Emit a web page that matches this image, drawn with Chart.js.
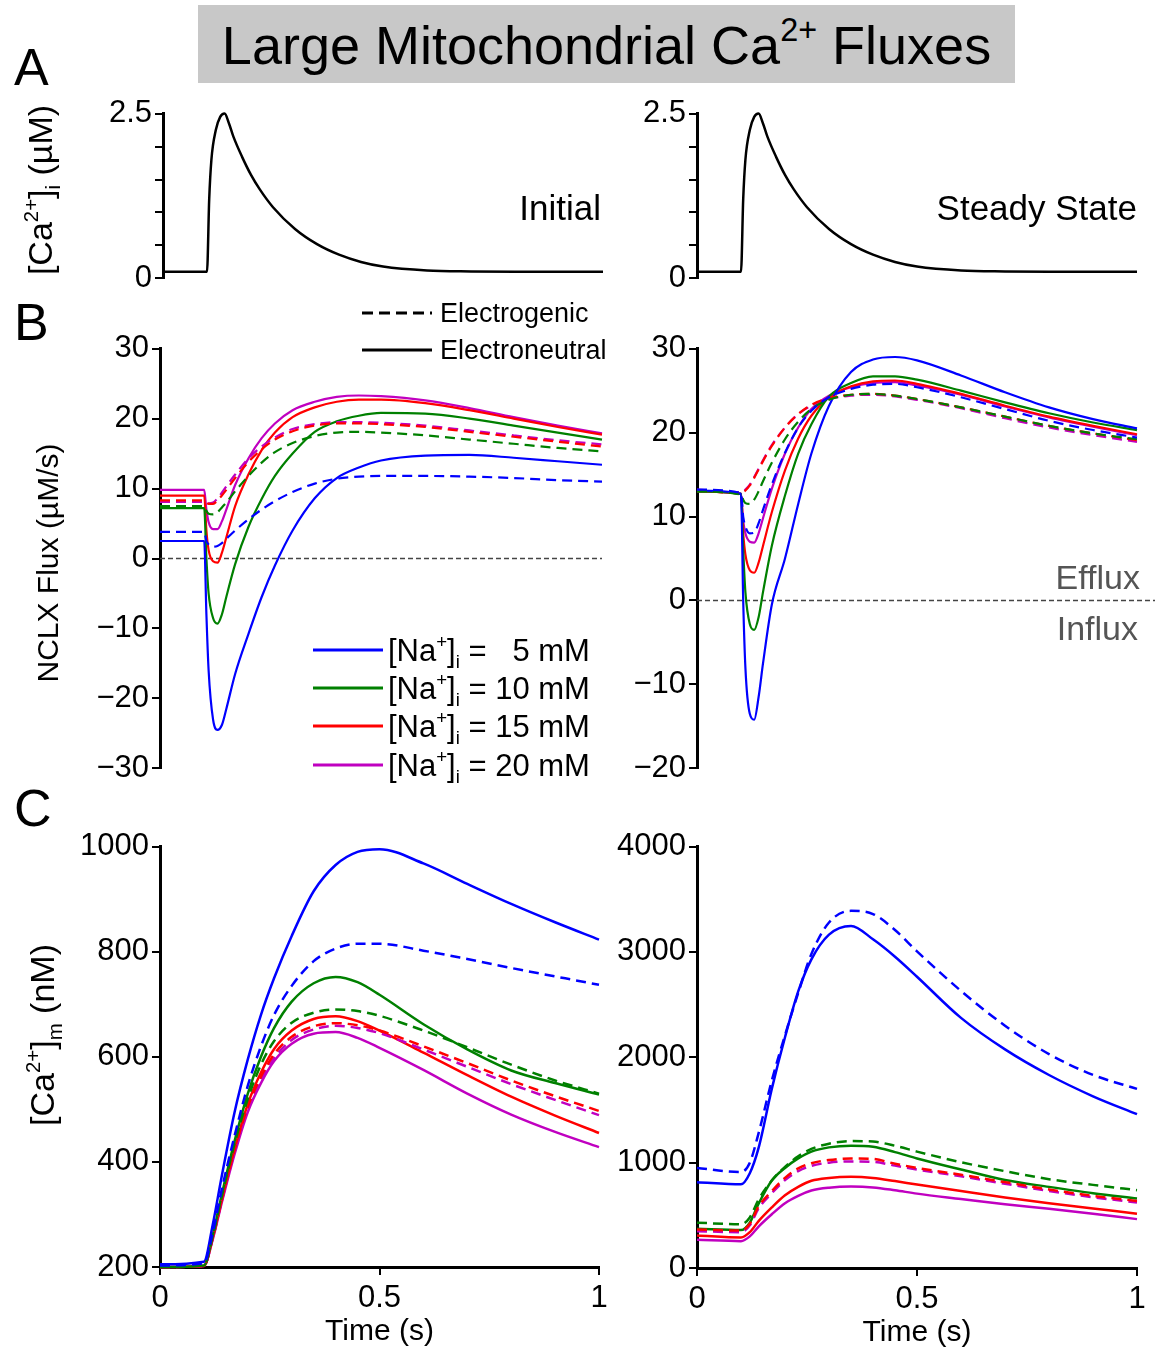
<!DOCTYPE html>
<html>
<head>
<meta charset="utf-8">
<script src="https://cdn.jsdelivr.net/npm/chart.js@4.4.1/dist/chart.umd.min.js"></script>
<style>
body { margin:0; background:#fff; }
#page { position:relative; width:1155px; height:1351px; overflow:hidden; background:#fff;
        font-family:"Liberation Sans", Arial, Helvetica, sans-serif; color:#000; }
canvas { position:absolute; }
.t { position:absolute; white-space:nowrap; line-height:1; }
.mid { transform:translateY(-50%); }
.rgt { transform:translate(-100%,-50%); }
.rot { transform:translate(-50%,-50%) rotate(-90deg); }
.t sup { font-size:0.6em; vertical-align:baseline; position:relative; top:-0.68em; }
.t sub { font-size:0.6em; vertical-align:baseline; position:relative; top:0.38em; }
#titlebox { position:absolute; left:198px; top:5px; width:817px; height:78px; background:#c8c8c8;
            font-size:54px; line-height:80px; text-align:center; white-space:nowrap; }
#titlebox sup { font-size:0.6em; vertical-align:baseline; position:relative; top:-0.7em; }
.ln { position:absolute; height:3px; transform:translateY(-50%); }
</style>
</head>
<body>
<div id="page">
  <div id="titlebox">Large Mitochondrial Ca<sup>2+</sup> Fluxes</div>

  <canvas id="aInit"></canvas>
  <canvas id="aSteady"></canvas>
  <canvas id="bInit"></canvas>
  <canvas id="bSteady"></canvas>
  <canvas id="cInit"></canvas>
  <canvas id="cSteady"></canvas>

  <div class="t mid" style="left:14px;top:67px;font-size:52px;">A</div>
  <div class="t mid" style="left:14px;top:322px;font-size:52px;">B</div>
  <div class="t mid" style="left:14px;top:808px;font-size:52px;">C</div>

  <div class="t rot" style="left:40px;top:190px;font-size:34px;">[Ca<sup>2+</sup>]<sub>i</sub> (µM)</div>
  <div class="t rot" style="left:48px;top:563px;font-size:30px;">NCLX Flux (µM/s)</div>
  <div class="t rot" style="left:42px;top:1035px;font-size:34px;">[Ca<sup>2+</sup>]<sub>m</sub> (nM)</div>

  <div class="t rgt" style="left:601px;top:207px;font-size:35px;">Initial</div>
  <div class="t rgt" style="left:1137px;top:207px;font-size:35px;">Steady State</div>
  <div class="t rgt" style="left:1140px;top:577px;font-size:34px;color:#555;">Efflux</div>
  <div class="t rgt" style="left:1138px;top:628px;font-size:34px;color:#555;">Influx</div>

  <div id="legends"></div>
</div>

<script>
// ---------- data ----------
const naLevels = [5, 10, 15, 20];
const naColors = ['#0000ff', '#008000', '#ff0000', '#c000c0'];

// A: cytosolic Ca transient (µM)
const tA = [0, 0.1, 0.105, 0.11, 0.12, 0.13, 0.14, 0.15, 0.16, 0.18, 0.2, 0.22, 0.25, 0.3, 0.35, 0.4, 0.45, 0.5, 0.6, 0.7, 0.8, 1.0];
const caCyto = [0.1, 0.1, 1.2, 1.8, 2.25, 2.45, 2.5, 2.35, 2.15, 1.84, 1.57, 1.35, 1.08, 0.75, 0.52, 0.36, 0.25, 0.18, 0.12, 0.105, 0.1, 0.1];
const aTickMarks = [0, 0.5, 1, 1.5, 2, 2.5];
const aTickLabels = [0, 2.5];

// B: NCLX flux (µM/s), rows = [Na+]i 5, 10, 15, 20 mM
const tB = [0, 0.1, 0.105, 0.11, 0.12, 0.13, 0.14, 0.15, 0.17, 0.2, 0.23, 0.26, 0.3, 0.35, 0.4, 0.45, 0.5, 0.6, 0.7, 0.8, 0.9, 1.0];
const fluxInitNeutral = [
  [2.5, 2.5, -8, -16, -23, -24.5, -23.8, -21.5, -16.5, -10.8, -5.5, -1.0, 4.0, 8.6, 11.5, 13.0, 14.0, 14.7, 14.8, 14.4, 13.9, 13.4],
  [7.2, 7.2, 0, -5, -8.5, -9.3, -8.0, -5.5, -0.8, 4.5, 8.5, 11.8, 15.0, 18.1, 19.6, 20.4, 20.8, 20.7, 20.0, 19.0, 18.0, 17.0],
  [9.0, 9.0, 4.0, 1.2, -0.4, -0.6, 0.8, 3.0, 7.5, 12.0, 15.5, 18.0, 20.2, 21.6, 22.4, 22.7, 22.7, 22.2, 21.2, 20.0, 18.8, 17.7],
  [9.8, 9.8, 7.0, 5.2, 4.2, 4.2, 5.3, 7.0, 10.5, 14.3, 17.2, 19.3, 21.2, 22.4, 23.1, 23.3, 23.2, 22.6, 21.5, 20.2, 19.0, 17.9]
];
const fluxInitGenic = [
  [3.8, 3.8, 2.5, 2.0, 1.7, 1.8, 2.2, 2.8, 4.0, 5.6, 7.0, 8.2, 9.5, 10.7, 11.4, 11.7, 11.8, 11.8, 11.7, 11.5, 11.2, 11.0],
  [7.5, 7.5, 6.8, 6.4, 6.3, 6.6, 7.3, 8.0, 9.6, 11.8, 13.7, 15.2, 16.5, 17.5, 18.0, 18.1, 18.0, 17.6, 17.0, 16.4, 15.8, 15.3],
  [8.3, 8.3, 8.0, 7.8, 7.8, 8.3, 9.0, 9.8, 11.5, 13.8, 15.6, 17.0, 18.2, 19.0, 19.3, 19.3, 19.2, 18.8, 18.1, 17.4, 16.7, 16.0],
  [8.1, 8.1, 8.0, 7.9, 8.0, 8.6, 9.4, 10.3, 12.0, 14.3, 16.0, 17.3, 18.5, 19.2, 19.5, 19.5, 19.4, 19.0, 18.3, 17.6, 16.9, 16.3]
];
const fluxSteadyNeutral = [
  [13.1, 12.7, 0, -8, -13.5, -14.2, -11.5, -7.5, -0.5, 5.0, 11.5, 17.5, 23.2, 27.2, 28.7, 29.0, 28.6, 26.8, 24.8, 23.0, 21.6, 20.5],
  [13.0, 12.7, 6.0, 1.0, -2.8, -3.5, -2.0, 1.0, 6.5, 12.5, 17.5, 21.0, 24.3, 25.9, 26.7, 26.7, 26.3, 25.0, 23.6, 22.3, 21.2, 20.3],
  [13.0, 12.7, 8.0, 5.5, 3.6, 3.3, 4.5, 6.5, 10.5, 15.5, 19.3, 22.0, 24.2, 25.5, 26.1, 26.2, 25.8, 24.6, 23.2, 21.9, 20.8, 19.8],
  [13.0, 12.7, 9.5, 8.0, 7.0, 6.9, 8.0, 9.8, 13.3, 17.5, 20.6, 22.8, 24.4, 25.4, 25.9, 26.0, 25.6, 24.5, 23.1, 21.8, 20.7, 19.7]
];
const fluxSteadyGenic = [
  [13.2, 12.8, 10.0, 8.8, 8.0, 8.1, 9.2, 10.8, 13.8, 17.6, 20.6, 22.6, 24.2, 25.2, 25.7, 25.8, 25.4, 24.2, 22.8, 21.4, 20.3, 19.4],
  [13.0, 12.6, 12.0, 11.6, 11.5, 12.0, 13.0, 14.2, 16.4, 19.2, 21.3, 22.8, 23.9, 24.5, 24.6, 24.4, 24.0, 23.0, 21.9, 20.8, 19.9, 19.2],
  [13.1, 12.8, 12.9, 13.1, 13.7, 14.6, 15.6, 16.6, 18.4, 20.6, 22.2, 23.3, 24.1, 24.5, 24.6, 24.4, 24.0, 23.0, 21.9, 20.8, 19.9, 19.1],
  [13.2, 12.9, 13.0, 13.2, 13.8, 14.7, 15.7, 16.7, 18.5, 20.6, 22.2, 23.2, 24.0, 24.4, 24.5, 24.3, 23.9, 22.9, 21.7, 20.6, 19.7, 18.9]
];
const bInitTicks = [-30, -20, -10, 0, 10, 20, 30];
const bSteadyTicks = [-20, -10, 0, 10, 20, 30];

// C: mitochondrial Ca (nM)
const tC = [0, 0.1, 0.12, 0.14, 0.17, 0.2, 0.23, 0.26, 0.3, 0.35, 0.4, 0.45, 0.5, 0.6, 0.7, 0.8, 0.9, 1.0];
const caMitoInitNeutral = [
  [205, 210, 280, 370, 495, 595, 680, 750, 830, 915, 965, 990, 995, 968, 929, 891, 856, 823],
  [200, 203, 260, 335, 440, 530, 600, 655, 705, 740, 752, 742, 718, 662, 614, 574, 550, 528],
  [200, 202, 255, 325, 425, 510, 570, 615, 650, 672, 677, 668, 650, 608, 565, 524, 488, 455],
  [200, 202, 252, 320, 415, 495, 550, 592, 625, 644, 647, 636, 617, 575, 530, 490, 457, 428]
];
const caMitoInitGenic = [
  [203, 207, 265, 345, 450, 545, 620, 680, 735, 782, 806, 815, 815, 802, 786, 769, 753, 737],
  [200, 203, 258, 332, 435, 520, 585, 630, 665, 684, 690, 687, 678, 650, 618, 585, 555, 530],
  [200, 202, 255, 325, 423, 505, 562, 605, 638, 658, 664, 660, 650, 620, 588, 555, 525, 497],
  [200, 202, 254, 323, 420, 500, 556, 598, 632, 652, 659, 655, 645, 614, 581, 548, 518, 489]
];
const caMitoSteadyNeutral = [
  [815, 795, 900, 1140, 1700, 2190, 2625, 2930, 3165, 3247, 3120, 2955, 2765, 2374, 2075, 1832, 1630, 1460],
  [372, 360, 430, 610, 830, 950, 1040, 1105, 1145, 1160, 1150, 1100, 1040, 935, 835, 770, 710, 660],
  [309, 290, 340, 445, 575, 690, 770, 828, 855, 866, 855, 825, 792, 730, 670, 615, 565, 515],
  [268, 255, 300, 393, 510, 615, 685, 735, 762, 773, 765, 738, 706, 655, 605, 562, 515, 464]
];
const caMitoSteadyGenic = [
  [950, 910, 1000, 1280, 1780, 2210, 2610, 2980, 3280, 3390, 3360, 3208, 3006, 2630, 2300, 2030, 1833, 1700],
  [430, 415, 480, 650, 830, 960, 1060, 1130, 1180, 1205, 1200, 1160, 1105, 1004, 919, 843, 789, 739],
  [365, 355, 420, 584, 730, 855, 945, 995, 1025, 1040, 1035, 990, 950, 885, 815, 745, 685, 636],
  [350, 340, 405, 565, 710, 835, 920, 970, 1000, 1012, 1008, 972, 935, 870, 800, 732, 672, 622]
];
const cInitTicks = [200, 400, 600, 800, 1000];
const cSteadyTicks = [0, 1000, 2000, 3000, 4000];
const timeTicks = [0, 0.5, 1];

// ---------- helpers ----------
const FONT = "'Liberation Sans', Arial, Helvetica, sans-serif";
Chart.defaults.font.family = FONT;
Chart.defaults.color = '#000';

function pts(t, vals) {
  return t.map((x, k) => ({ x: x, y: vals[k] }));
}
function fmt(v) {
  return String(v).replace('-', '\u2212');
}
function line(t, vals, color, dashed, width) {
  return {
    data: pts(t, vals),
    borderColor: color,
    borderWidth: width,
    borderDash: dashed ? [10, 6] : [],
    pointRadius: 0,
    fill: false,
    cubicInterpolationMode: 'monotone',
    clip: 8
  };
}
function family(t, genic, neutral, width) {
  const out = [];
  genic.forEach((v, i) => out.push(line(t, v, naColors[i], true, width)));
  neutral.forEach((v, i) => out.push(line(t, v, naColors[i], false, width)));
  return out;
}

// dashed zero line drawn through the y scale
const zeroLine = {
  id: 'zeroLine',
  beforeDatasetsDraw(chart, args, opts) {
    if (!opts.show) return;
    const ctx = chart.ctx;
    const y = chart.scales.y.getPixelForValue(0);
    ctx.save();
    ctx.strokeStyle = '#444';
    ctx.lineWidth = 1.3;
    ctx.setLineDash([5, 3]);
    ctx.beginPath();
    ctx.moveTo(chart.chartArea.left, y);
    ctx.lineTo(opts.toEdge ? chart.width : chart.chartArea.right, y);
    ctx.stroke();
    ctx.restore();
  }
};

function panel(id, box, yMin, yMax, yMarks, yLabels, xMarks, datasets, zero) {
  const YW = 130, PT = 20, PR = 25;
  const XH = xMarks ? 85 : 20;
  const cv = document.getElementById(id);
  const w = YW + (box.r - box.l) + PR;
  const h = PT + (box.b - box.t) + XH;
  cv.width = w; cv.height = h;
  cv.style.width = w + 'px'; cv.style.height = h + 'px';
  cv.style.left = (box.l - YW) + 'px';
  cv.style.top = (box.t - PT) + 'px';

  new Chart(cv, {
    type: 'line',
    data: { datasets: datasets },
    options: {
      responsive: false,
      animation: false,
      layout: { padding: { left: 0, top: PT, right: PR, bottom: xMarks ? 0 : 20 } },
      plugins: {
        legend: { display: false },
        tooltip: { enabled: false },
        zeroLine: zero || { show: false }
      },
      scales: {
        x: {
          type: 'linear', min: 0, max: 1,
          display: !!xMarks,
          afterBuildTicks: s => { if (xMarks) s.ticks = xMarks.map(v => ({ value: v })); },
          afterFit: s => { if (xMarks) s.height = XH; },
          grid: { drawOnChartArea: false, drawTicks: true, tickLength: 8, color: '#000', lineWidth: 2 },
          border: { display: true, color: '#000', width: 3 },
          ticks: { font: { size: 31 }, color: '#000', padding: 5, maxRotation: 0, autoSkip: false,
                   callback: v => fmt(v) },
          title: { display: true, text: 'Time (s)', font: { size: 30 }, color: '#000',
                   padding: { top: 0, bottom: 2 } }
        },
        y: {
          type: 'linear', min: yMin, max: yMax,
          afterBuildTicks: s => { s.ticks = yMarks.map(v => ({ value: v })); },
          afterFit: s => { s.width = YW; },
          grid: { drawOnChartArea: false, drawTicks: true, tickLength: 8, color: '#000', lineWidth: 2 },
          border: { display: true, color: '#000', width: 3 },
          ticks: { font: { size: 31 }, color: '#000', padding: 3, autoSkip: false,
                   callback: v => (yLabels.includes(v) ? fmt(v) : '') }
        }
      }
    },
    plugins: [zeroLine]
  });
}

// ---------- panels ----------
const caLine = v => [line(tA, v, '#000', false, 2.5)];

panel('aInit',   { l: 163, t: 112, r: 603,  b: 280 }, 0, 2.5, aTickMarks, aTickLabels, null, caLine(caCyto));
panel('aSteady', { l: 697, t: 112, r: 1137, b: 280 }, 0, 2.5, aTickMarks, aTickLabels, null, caLine(caCyto));

panel('bInit',   { l: 160, t: 347, r: 602,  b: 770 }, -30, 30, bInitTicks, bInitTicks, null,
      family(tB, fluxInitGenic, fluxInitNeutral, 2.2), { show: true, toEdge: false });
panel('bSteady', { l: 697, t: 347, r: 1137, b: 770 }, -20, 30, bSteadyTicks, bSteadyTicks, null,
      family(tB, fluxSteadyGenic, fluxSteadyNeutral, 2.2), { show: true, toEdge: true });

panel('cInit',   { l: 160, t: 845, r: 599,  b: 1267 }, 200, 1000, cInitTicks, cInitTicks, timeTicks,
      family(tC, caMitoInitGenic, caMitoInitNeutral, 2.5));
panel('cSteady', { l: 697, t: 845, r: 1137, b: 1268 }, 0, 4000, cSteadyTicks, cSteadyTicks, timeTicks,
      family(tC, caMitoSteadyGenic, caMitoSteadyNeutral, 2.5));

// ---------- legends (html) ----------
const leg = document.getElementById('legends');
function sample(x1, x2, y, color, dashed) {
  const d = document.createElement('div');
  d.className = 'ln';
  d.style.left = x1 + 'px';
  d.style.top = y + 'px';
  d.style.width = (x2 - x1) + 'px';
  d.style.background = dashed
    ? 'repeating-linear-gradient(90deg,' + color + ' 0 11px, transparent 11px 17px)'
    : color;
  leg.appendChild(d);
}
function label(x, y, size, html) {
  const d = document.createElement('div');
  d.className = 't mid';
  d.style.left = x + 'px';
  d.style.top = y + 'px';
  d.style.fontSize = size + 'px';
  d.innerHTML = html;
  leg.appendChild(d);
}

sample(362, 432, 313, '#000', true);
label(440, 313, 27, 'Electrogenic');
sample(362, 432, 350, '#000', false);
label(440, 350, 27, 'Electroneutral');

const naRows = [650, 688, 726, 765];
naLevels.forEach((na, i) => {
  sample(313, 383, naRows[i], naColors[i], false);
  const num = na < 10 ? '&nbsp;&nbsp;' + na : String(na);
  label(388, naRows[i], 31, '[Na<sup>+</sup>]<sub>i</sub> = ' + num + ' mM');
});
</script>
</body>
</html>
